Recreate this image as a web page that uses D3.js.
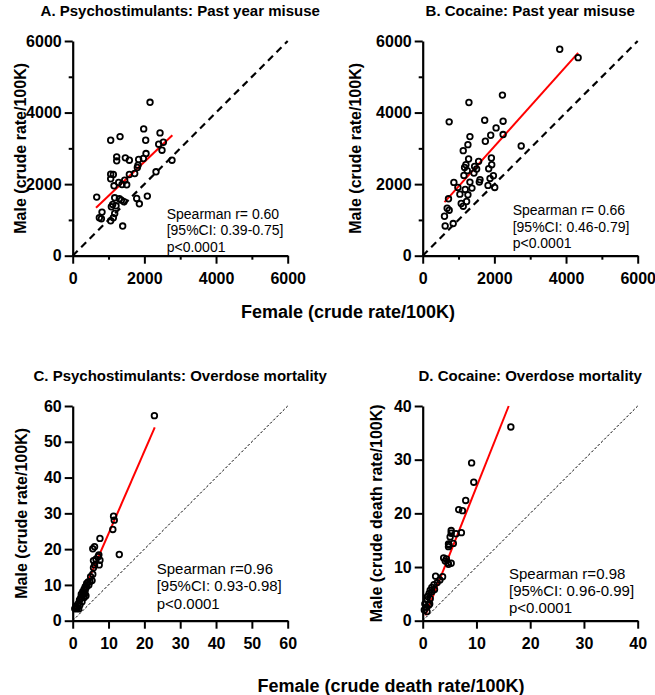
<!DOCTYPE html>
<html>
<head>
<meta charset="utf-8">
<script src="https://cdn.jsdelivr.net/npm/d3@7/dist/d3.min.js"></script>
<style>
  html, body { margin: 0; padding: 0; background: #fff; }
  svg { display: block; }
  text { font-family: "Liberation Sans", Arial, Helvetica, sans-serif; }
</style>
</head>
<body>
<svg id="chart" width="655" height="695"></svg>
<script>
// ---------------- DATA ----------------
// Panel A: Psychostimulants past-year misuse (crude rate / 100K)
const aFemale = [2158,1060,1321,1981,2437,2037,2400,2530,2492,2046,1228,1228,1469,1581,1841,1972,1823,1804,2771,1060,1134,1060,1581,1730,2325,1283,1451,1376,1507,1153,670,1172,1302,1358,1432,1786,2083,1860,1116,1079,1209,1172,818,744,800,1060,1134,1395];
const aMale   = [4287,3227,3329,3543,3432,3227,3116,3171,2948,2855,2762,2651,2734,2669,2688,2716,2530,2465,2669,2279,2269,2148,2269,2297,2344,2046,2111,1990,1981,1953,1637,1618,1590,1553,1507,1600,1665,1451,1432,1367,1395,1181,1218,1060,1032,976,1060,828];
const aFitX = [651, 2781];
const aFitY = [1339, 3367];

// Panel B: Cocaine past-year misuse
const bFemale = [3824,4338,2225,1290,739,1730,2244,2048,1898,2244,1318,1748,1262,1131,2749,1281,1561,1917,1926,1206,1169,1449,1244,1505,1842,1430,1150,1318,1599,1580,1973,1879,870,982,1187,1374,1823,2010,1038,1262,1225,1075,1131,720,683,739,608,851,627];
const bMale   = [5769,5535,4488,4282,3740,3787,3759,3572,3366,3385,3329,3198,3104,2936,3067,2702,2637,2730,2543,2543,2468,2496,2375,2422,2431,2309,2244,2057,2122,2057,2235,2160,2048,1907,1851,1889,1964,1907,1720,1702,1515,1459,1384,1590,1328,1272,1103,898,832];
const bFitX = [608, 4338];
const bFitY = [1496, 5666];

// Panel C: Psychostimulants overdose mortality (crude death rate / 100K)
const cFemale = [22.8,11.4,11.6,11.2,13.0,7.6,5.6,6.1,7.3,7.1,7.6,5.8,6.5,6.1,7.4,5.8,5.6,4.8,5.4,3.9,4.5,3.5,3.2,2.8,3.0,3.7,2.4,3.2,1.9,2.6,1.6,2.0,1.1,0.7,1.3,0.6,1.7,3.4,4.3,2.2,0.9,3.5,5.0,2.4,3.9];
const cMale   = [57.3,29.2,28.1,25.5,18.5,23.0,20.1,20.7,18.4,17.9,16.9,16.8,17.2,15.6,15.6,14.8,13.0,10.9,11.2,10.4,10.0,9.5,8.8,8.1,7.3,7.0,6.7,6.5,5.8,5.3,4.8,4.4,3.9,3.5,3.5,3.3,3.3,7.6,10.8,6.2,4.1,8.6,12.3,7.4,9.5];
const cFitX = [0.6, 22.9];
const cFitY = [2.7, 54.0];

// Panel D: Cocaine overdose mortality
const dFemale = [16.4,9.1,9.5,8.0,6.7,7.4,5.3,5.3,6.2,7.2,5.1,4.9,5.7,4.8,4.8,3.9,4.4,4.7,5.3,4.8,2.4,3.7,3.2,2.7,2.1,1.7,2.2,1.4,1.2,1.7,0.9,1.4,0.8,0.4,1.1,0.7,0.3,0.8,1.3,4.2];
const dMale   = [36.1,29.4,25.8,22.4,20.7,20.5,16.8,16.3,16.2,16.4,15.6,14.1,14.4,14.3,13.8,11.7,11.5,10.8,10.7,10.5,8.3,8.2,7.6,7.1,6.7,6.2,5.8,5.7,5.1,5.4,4.5,4.1,3.9,3.1,2.9,2.5,2.0,1.7,3.1,11.1];
const dFitX = [0.5, 16.0];
const dFitY = [1.0, 40.0];

// Ticks
const abMajorTicks = [0, 2000, 4000, 6000];
const abMinorTicks = [1000, 3000, 5000];
const cTicks = [0, 10, 20, 30, 40, 50, 60];
const dTicks = [0, 10, 20, 30, 40];

// Text
const titles = ["A. Psychostimulants: Past year misuse", "B. Cocaine: Past year misuse",
                "C. Psychostimulants: Overdose mortality", "D. Cocaine: Overdose mortality"];
const yLabels = ["Male (crude rate/100K)", "Male (crude rate/100K)",
                 "Male (crude rate/100K)", "Male (crude death rate/100K)"];
const xLabelTop = "Female (crude rate/100K)";
const xLabelBottom = "Female (crude death rate/100K)";
const statsA = ["Spearman r= 0.60", "[95%CI: 0.39-0.75]", "p<0.0001"];
const statsB = ["Spearman r= 0.66", "[95%CI: 0.46-0.79]", "p<0.0001"];
const statsC = ["Spearman r=0.96", "[95%CI: 0.93-0.98]", "p<0.0001"];
const statsD = ["Spearman r=0.98", "[95%CI: 0.96-0.99]", "p<0.0001"];

// ---------------- DRAW ----------------
const svg = d3.select("#chart");
svg.append("rect").attr("width", 655).attr("height", 695).attr("fill", "#fff");

const panels = [
  { left: 72.7, top: 41, max: 6000, fx: aFemale, my: aMale, fitX: aFitX, fitY: aFitY,
    major: abMajorTicks, minor: abMinorTicks, title: titles[0], ylab: yLabels[0], ylabX: 20,
    stats: statsA, statX: 166.7, statY: 218.5, statSize: 14, statLH: 16.7,
    diag: "dash" },
  { left: 422.7, top: 41, max: 6000, fx: bFemale, my: bMale, fitX: bFitX, fitY: bFitY,
    major: abMajorTicks, minor: abMinorTicks, title: titles[1], ylab: yLabels[1], ylabX: 355,
    stats: statsB, statX: 512.7, statY: 215, statSize: 14, statLH: 16.7,
    diag: "dash" },
  { left: 72.7, top: 406, max: 60, fx: cFemale, my: cMale, fitX: cFitX, fitY: cFitY,
    major: cTicks, minor: [], title: titles[2], ylab: yLabels[2], ylabX: 21,
    stats: statsC, statX: 156.7, statY: 573.5, statSize: 15, statLH: 17.5,
    diag: "dot" },
  { left: 422.7, top: 406, max: 40, fx: dFemale, my: dMale, fitX: dFitX, fitY: dFitY,
    major: dTicks, minor: [], title: titles[3], ylab: yLabels[3], ylabX: 376,
    stats: statsD, statX: 509, statY: 578.5, statSize: 15, statLH: 17.3,
    diag: "dot" }
];

const W = 215, H = 214.7;

panels.forEach(p => {
  const g = svg.append("g").attr("transform", `translate(${p.left},${p.top})`);
  const x = d3.scaleLinear().domain([0, p.max]).range([0, W]);
  const y = d3.scaleLinear().domain([0, p.max]).range([H, 0]);

  // identity diagonal
  g.append("line")
    .attr("x1", x(0)).attr("y1", y(0)).attr("x2", x(p.max)).attr("y2", y(p.max))
    .attr("stroke", "#000")
    .attr("stroke-width", p.diag === "dash" ? 2.2 : 1)
    .attr("stroke-dasharray", p.diag === "dash" ? "7,5" : "2.5,2");

  // regression line
  g.append("line")
    .attr("x1", x(p.fitX[0])).attr("y1", y(p.fitY[0]))
    .attr("x2", x(p.fitX[1])).attr("y2", y(p.fitY[1]))
    .attr("stroke", "#ff0000").attr("stroke-width", 2);

  // points
  g.append("g").selectAll("circle")
    .data(p.fx.map((v, i) => [v, p.my[i]]))
    .join("circle")
    .attr("cx", d => x(d[0])).attr("cy", d => y(d[1]))
    .attr("r", 2.8)
    .attr("fill", "none").attr("stroke", "#000").attr("stroke-width", 1.8);

  // minor ticks
  if (p.minor.length) {
    g.append("g").attr("transform", `translate(0,${H})`)
      .call(d3.axisBottom(x).tickValues(p.minor).tickSize(4).tickFormat(""))
      .call(s => s.select(".domain").remove())
      .call(s => s.selectAll("line").attr("stroke-width", 2));
    g.append("g")
      .call(d3.axisLeft(y).tickValues(p.minor).tickSize(4).tickFormat(""))
      .call(s => s.select(".domain").remove())
      .call(s => s.selectAll("line").attr("stroke-width", 2));
  }

  // x axis
  const xa = g.append("g").attr("transform", `translate(0,${H})`)
    .call(d3.axisBottom(x).tickValues(p.major).tickSize(8).tickSizeOuter(0).tickPadding(9).tickFormat(d3.format("d")));
  // y axis
  const ya = g.append("g")
    .call(d3.axisLeft(y).tickValues(p.major).tickSize(8).tickSizeOuter(0).tickPadding(3).tickFormat(d3.format("d")));
  [xa, ya].forEach(a => {
    a.select(".domain").attr("stroke-width", 2.2);
    a.selectAll(".tick line").attr("stroke-width", 2);
    a.selectAll("text").attr("font-size", 16).attr("font-weight", "bold")
      .attr("font-family", '"Liberation Sans", Arial, sans-serif').attr("fill", "#000");
  });

  // title
  svg.append("text")
    .attr("x", p.left + W / 2).attr("y", p.top - 25.5)
    .attr("text-anchor", "middle").attr("font-size", 15).attr("font-weight", "bold")
    .text(p.title);

  // y label
  svg.append("text")
    .attr("transform", `translate(${p.ylabX},${p.top + H / 2}) rotate(-90)`)
    .attr("text-anchor", "middle").attr("dominant-baseline", "central")
    .attr("font-size", 16).attr("font-weight", "bold")
    .text(p.ylab);

  // stats
  const st = svg.append("text").attr("font-size", p.statSize).attr("fill", "#000");
  p.stats.forEach((s, i) => {
    st.append("tspan").attr("x", p.statX).attr("y", p.statY + i * p.statLH).text(s);
  });
});

// shared x labels
svg.append("text").attr("x", 348).attr("y", 318)
  .attr("text-anchor", "middle").attr("font-size", 18).attr("font-weight", "bold")
  .text(xLabelTop);
svg.append("text").attr("x", 391).attr("y", 692)
  .attr("text-anchor", "middle").attr("font-size", 18).attr("font-weight", "bold")
  .text(xLabelBottom);
</script>
</body>
</html>
